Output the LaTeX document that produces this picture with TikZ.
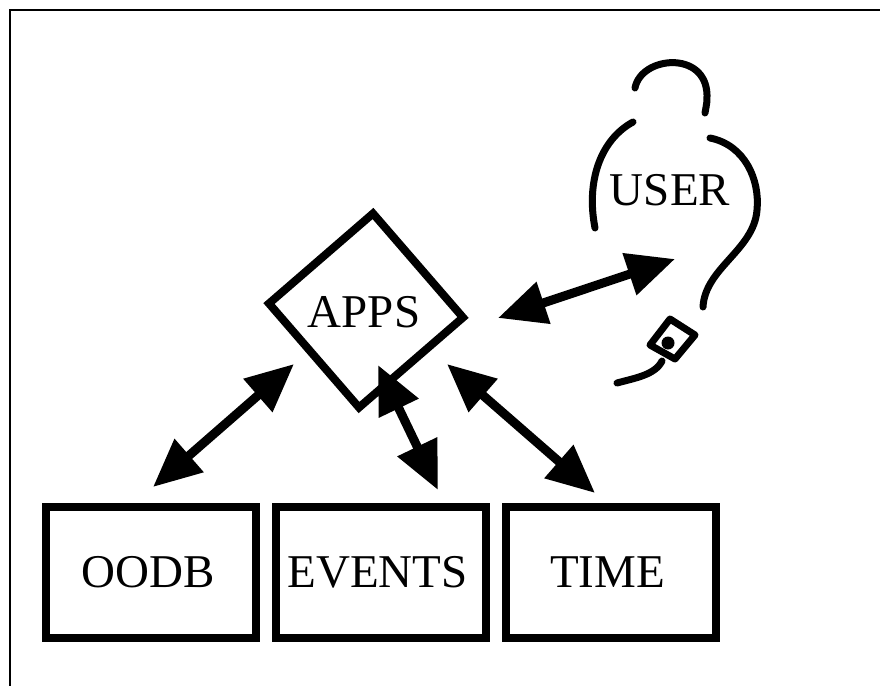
\documentclass[tikz,border=0pt]{standalone}
\usepackage{fontspec}
\setmainfont{Liberation Serif}
\usetikzlibrary{arrows.meta}
\begin{document}
\begin{tikzpicture}[x=1pt,y=-1pt,
  label/.style={font=\fontsize{47}{50}\selectfont, inner sep=0pt},
  module/.style={draw, line width=8pt, minimum width=210pt, minimum height=131pt,
                 inner sep=0pt, font=\fontsize{47}{50}\selectfont},
  link/.style={line width=9pt, {Triangle[length=48pt,width=42pt]}-{Triangle[length=48pt,width=42pt]}},
  stroke/.style={line width=7pt, line cap=round, line join=round}]
  \useasboundingbox (0,0) rectangle (880,685);
  \fill[white] (0,0) rectangle (880,685);
  % frame (only the top and left edges fall inside the page)
  \draw[line width=2pt] (10,690) -- (10,10) -- (890,10);

  % lower modules
  \node[module] (oodb)   at (151,572.5)   {\hspace*{-6pt}OODB};
  \node[module] (events) at (380.5,572.5) {\hspace*{-6pt}EVENTS};
  \node[module] (time)   at (610.5,572.5) {\hspace*{-6pt}TIME};

  % application diamond
  \draw[line width=8pt, line join=miter]
    (269,303.5) -- (373,213.5) -- (463,317.5) -- (359,407.5) -- cycle;
  \node[label, anchor=base] (apps) at (364,327) {APPS};

  % user figure
  \node[label, anchor=base] (user) at (670,205) {USER};
  \draw[stroke] (635,88) .. controls (641,56) and (706,50) .. (707,95)
                .. controls (707,102) .. (705,113);
  \draw[stroke] (633,122) .. controls (600,140) and (586,182) .. (595,228);
  \draw[stroke] (710,138) .. controls (745,145) and (760,180) .. (757,210)
                .. controls (754,250) and (705,268) .. (703,307);
  % mouse and its cord
  \draw[line width=7pt, line join=round]
    (670,319) -- (695,335) -- (675,359) -- (650,345) -- cycle;
  \fill (668,343) circle (6.5pt);
  \draw[stroke] (662,361) .. controls (655,375) and (635,378) .. (617,383);

  % connector end points
  \coordinate (o1) at (153,487);  \coordinate (o2) at (294,364);
  \coordinate (e1) at (378,365);  \coordinate (e2) at (438,490);
  \coordinate (t1) at (447,364);  \coordinate (t2) at (595,493);
  \coordinate (u1) at (498,318);  \coordinate (u2) at (675,259);

  \draw[link] (o1) -- (o2);
  \draw[link] (e1) -- (e2);
  \draw[link] (t1) -- (t2);
  \draw[link] (u1) -- (u2);
\end{tikzpicture}
\end{document}
